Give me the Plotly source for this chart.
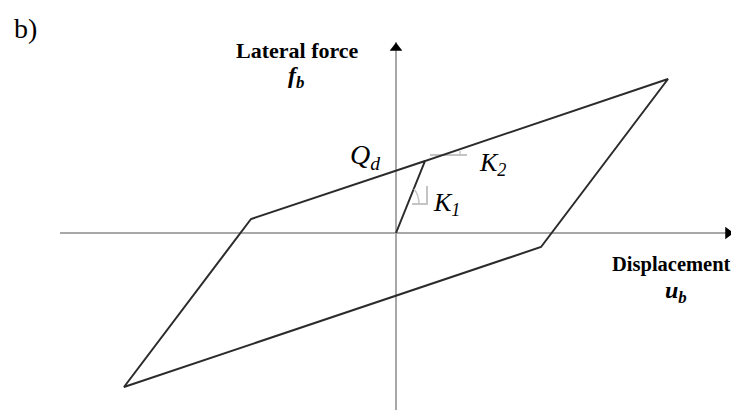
import plotly.graph_objects as go

# hysteresis loop (displacement u_b, lateral force f_b)
loop_u = [0, 29, 272, 145, -272, -145, 29]
loop_f = [0, 72, 154, -14, -154, 14, 72]

# axis extents
axis_u = [-336, 337]
axis_f = [-177, 191]

# slope markers
k1_u = [16, 31, 31]
k1_f = [29, 29, 47]
k2_u = [34, 71]
k2_f = [78, 78]

SERIF = "Liberation Serif, Times New Roman, serif"
AXIS_GRAY = "#a8a8a8"
MARK_GRAY = "#c4c4c4"

fig = go.Figure()

# axes
fig.add_trace(go.Scatter(x=axis_u, y=[0, 0], mode="lines",
                         line=dict(color=AXIS_GRAY, width=2), hoverinfo="skip"))
fig.add_trace(go.Scatter(x=[0, 0], y=axis_f, mode="lines",
                         line=dict(color=AXIS_GRAY, width=2), hoverinfo="skip"))
# arrow heads
fig.add_trace(go.Scatter(x=[axis_u[1] - 5], y=[0], mode="markers",
                         marker=dict(symbol="triangle-right", size=11, color="black"),
                         hoverinfo="skip"))
fig.add_trace(go.Scatter(x=[0], y=[axis_f[1] - 6], mode="markers",
                         marker=dict(symbol="triangle-up", size=11, color="black"),
                         hoverinfo="skip"))

# slope markers
fig.add_trace(go.Scatter(x=k1_u, y=k1_f, mode="lines",
                         line=dict(color=MARK_GRAY, width=2), hoverinfo="skip"))
fig.add_trace(go.Scatter(x=k2_u, y=k2_f, mode="lines",
                         line=dict(color=MARK_GRAY, width=2), hoverinfo="skip"))
fig.add_shape(type="path", path="M 23 29 Q 23 38 18 44",
              line=dict(color=MARK_GRAY, width=1.5))
fig.add_shape(type="path", path="M 64 78 L 64 82",
              line=dict(color=MARK_GRAY, width=1.5))

# loop
fig.add_trace(go.Scatter(x=loop_u, y=loop_f, mode="lines",
                         line=dict(color="#2b2b2b", width=2), hoverinfo="skip"))

ann = [
    dict(x=-384, y=205, text="b)", size=28, xanchor="left"),
    dict(x=-99, y=183, text="<b>Lateral force</b>", size=22, xanchor="center"),
    dict(x=-100, y=156, text="<b><i>f<sub>b</sub></i></b>", size=24, xanchor="center"),
    dict(x=-31, y=77, text="<i>Q<sub>d</sub></i>", size=28, xanchor="center"),
    dict(x=96, y=69, text="<i>K<sub>2</sub></i>", size=26, xanchor="center"),
    dict(x=50, y=29, text="<i>K<sub>1</sub></i>", size=26, xanchor="center"),
    dict(x=275, y=-31, text="<b>Displacement</b>", size=20.5, xanchor="center"),
    dict(x=280, y=-59, text="<b><i>u<sub>b</sub></i></b>", size=24, xanchor="center"),
]
for a in ann:
    fig.add_annotation(x=a["x"], y=a["y"], text=a["text"], showarrow=False,
                       xanchor=a["xanchor"], yanchor="middle",
                       font=dict(family=SERIF, size=a["size"], color="black"))

fig.update_layout(
    width=739, height=412,
    margin=dict(l=0, r=0, t=0, b=0),
    paper_bgcolor="white", plot_bgcolor="white",
    showlegend=False,
)
# page body adds an 8px offset, so the ranges are shifted to compensate
fig.update_xaxes(range=[-388, 351], visible=False, fixedrange=True)
fig.update_yaxes(range=[-187, 225], visible=False, fixedrange=True)

fig.write_html("out.html")
